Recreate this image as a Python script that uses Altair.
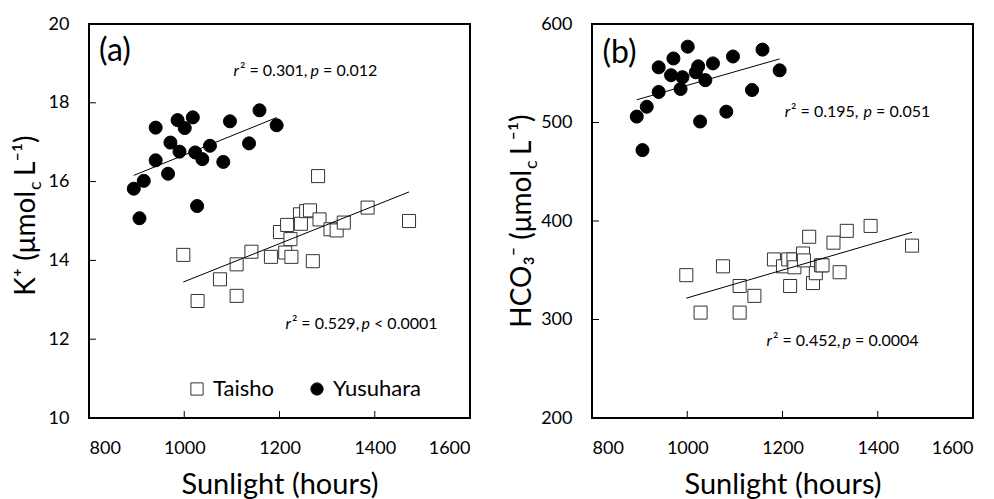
import altair as alt
import pandas as pd

# ---------------- data ----------------
sites = ["Taisho", "Yusuhara"]

yusu_sun = [894, 906, 915, 940, 940, 966, 971, 986, 990, 1001, 1018, 1023, 1027, 1038, 1054, 1082, 1096, 1136, 1158, 1194]
yusu_k = [15.82, 15.07, 16.02, 17.37, 16.54, 16.20, 16.99, 17.56, 16.76, 17.36, 17.63, 16.74, 15.38, 16.57, 16.91, 16.50, 17.53, 16.97, 17.81, 17.43]
yusu_hco3 = [506, 472, 516, 556, 531, 548, 565, 534, 546, 577, 551, 557, 501, 543, 560, 511, 567, 533, 574, 553]

taisho_sun = [998, 1028, 1075, 1110, 1110, 1141, 1182, 1201, 1212, 1216, 1223, 1225, 1243, 1245, 1256, 1264, 1270, 1281, 1284, 1307, 1320, 1335, 1385, 1472]
taisho_k = [14.14, 12.97, 13.52, 13.90, 13.10, 14.22, 14.09, 14.72, 14.20, 14.90, 14.54, 14.09, 15.17, 14.93, 15.25, 15.27, 13.98, 16.14, 15.04, 14.79, 14.76, 14.96, 15.34, 15.00]
taisho_hco3 = [345, 307, 354, 334, 307, 324, 361, 354, 361, 334, 361, 353, 367, 360, 384, 337, 347, 355, 355, 378, 348, 390, 395, 375]

x_domain = [800, 1600]
x_labels = [800, 1000, 1200, 1400, 1600]
x_inner_ticks = [1000, 1200, 1400]

k_domain = [10, 20]
k_labels = [10, 12, 14, 16, 18, 20]
k_inner_ticks = [12, 14, 16, 18]

hco3_domain = [200, 600]
hco3_labels = [200, 300, 400, 500, 600]
hco3_inner_ticks = [300, 400, 500]

# annotations: (r-anchor x, p-anchor x, y, middle text, end text)
ann_k = [(1115, 1283, 18.81, "² = 0.301,", "= 0.012"),
         (1224, 1390, 12.39, "² = 0.529,", "< 0.0001")]
ann_hco3 = [(1216, 1388, 511, "² = 0.195,", "= 0.051"),
            (1178, 1344, 278, "² = 0.452,", "= 0.0004")]

panel_labels = {"a": (821, 19.31, "(a)"), "b": (822, 571, "(b)")}

W, H = 381, 394
FONT = "Lato"


def make_df(t_y, y_y):
    return pd.DataFrame({
        "sun": taisho_sun + yusu_sun,
        "val": t_y + y_y,
        "site": ["Taisho"] * len(taisho_sun) + ["Yusuhara"] * len(yusu_sun),
    })


def panel(df, ydomain, ylabels, yticks, ann, plabel, title_pieces, show_legend):
    xs = alt.Scale(domain=x_domain, nice=False, zero=False)
    ys = alt.Scale(domain=ydomain, nice=False, zero=False)
    xax = alt.Axis(values=x_labels, format="d", ticks=False, domain=False, grid=False,
                   labelPadding=21, labelFontSize=18, labelFont=FONT, labelColor="black",
                   title="Sunlight (hours)", titleFontSize=29, titleFont=FONT,
                   titleFontWeight="normal", titleColor="black", titlePadding=13)
    yax = alt.Axis(values=ylabels, format="d", ticks=False, domain=False, grid=False,
                   labelPadding=20, labelFontSize=18, labelFont=FONT, labelColor="black",
                   title=None)
    X = lambda f: alt.X(f, scale=xs, axis=xax, title="Sunlight (hours)")
    Y = lambda f: alt.Y(f, scale=ys, axis=yax, title=None)

    if show_legend:
        leg = alt.Legend(orient="none", legendX=97, legendY=354, direction="horizontal",
                         title=None, labelFontSize=22, labelFont=FONT, labelColor="black",
                         symbolSize=150, symbolStrokeWidth=1,
                         symbolOpacity=1, labelOffset=5, columnPadding=32, padding=0)
    else:
        leg = None

    base = alt.Chart(df)
    pts = base.mark_point(filled=True, opacity=1, strokeWidth=1, size=170).encode(
        x=X("sun:Q"),
        y=Y("val:Q"),
        fill=alt.Fill("site:N", scale=alt.Scale(domain=sites, range=["white", "black"]), legend=leg),
        stroke=alt.Stroke("site:N", scale=alt.Scale(domain=sites, range=["#333333", "black"]), legend=leg),
        shape=alt.Shape("site:N", scale=alt.Scale(domain=sites, range=["square", "circle"]), legend=leg),
    )
    reg = base.transform_regression("sun", "val", groupby=["site"]).mark_line(
        color="black", strokeWidth=1).encode(
        x=X("sun:Q"),
        y=Y("val:Q"),
        detail="site:N",
    )

    xt = alt.Chart(pd.DataFrame({"sun": x_inner_ticks})).mark_rule(color="black", strokeWidth=1).encode(
        x=X("sun:Q"), y=alt.value(H), y2=alt.value(H - 7))
    yt = alt.Chart(pd.DataFrame({"val": yticks})).mark_rule(color="black", strokeWidth=1).encode(
        y=Y("val:Q"), x=alt.value(0), x2=alt.value(7))

    # annotations (italic r and p)
    it_rows, mid_rows, end_rows = [], [], []
    for rx, px, yy, mid, end in ann:
        it_rows += [{"sun": rx, "val": yy, "t": "r"}, {"sun": px, "val": yy, "t": "p"}]
        mid_rows.append({"sun": rx, "val": yy, "t": mid})
        end_rows.append({"sun": px, "val": yy, "t": end})
    it = alt.Chart(pd.DataFrame(it_rows)).mark_text(
        font=FONT, fontSize=16, fontStyle="italic", align="right", baseline="middle", color="black").encode(
        x=X("sun:Q"), y=Y("val:Q"), text="t:N")
    md = alt.Chart(pd.DataFrame(mid_rows)).mark_text(
        font=FONT, fontSize=16, align="left", baseline="middle", color="black", dx=1).encode(
        x=X("sun:Q"), y=Y("val:Q"), text="t:N")
    ed = alt.Chart(pd.DataFrame(end_rows)).mark_text(
        font=FONT, fontSize=16, align="left", baseline="middle", color="black", dx=4).encode(
        x=X("sun:Q"), y=Y("val:Q"), text="t:N")

    lx, ly, lt = plabel
    pl = alt.Chart(pd.DataFrame({"sun": [lx], "val": [ly], "t": [lt]})).mark_text(
        font=FONT, fontSize=32, align="left", baseline="middle", color="black").encode(
        x=X("sun:Q"), y=Y("val:Q"), text="t:N")

    # rotated y-axis title made of pieces (subscript c)
    p1, p3, xb, ysplit, gap = title_pieces
    tdf = pd.DataFrame({"k": [0]})
    t1 = alt.Chart(tdf).mark_text(font=FONT, fontSize=28, angle=270, align="right",
                                  baseline="alphabetic", color="black", text=p1).encode(
        x=alt.value(xb), y=alt.value(ysplit))
    t2 = alt.Chart(tdf).mark_text(font=FONT, fontSize=18, angle=270, align="left",
                                  baseline="alphabetic", color="black", text="c").encode(
        x=alt.value(xb + 6), y=alt.value(ysplit - 1))
    t3 = alt.Chart(tdf).mark_text(font=FONT, fontSize=28, angle=270, align="left",
                                  baseline="alphabetic", color="black", text=p3).encode(
        x=alt.value(xb), y=alt.value(ysplit - gap))

    return alt.layer(pts, reg, xt, yt, it, md, ed, pl, t1, t2, t3).properties(width=W, height=H)


pa = panel(make_df(taisho_k, yusu_k), k_domain, k_labels, k_inner_ticks, ann_k,
           panel_labels["a"], ("K⁺ (μmol", "L⁻¹)", -54, 167, 15), True)
pb = panel(make_df(taisho_hco3, yusu_hco3), hco3_domain, hco3_labels, hco3_inner_ticks, ann_hco3,
           panel_labels["b"], ("HCO₃⁻ (μmol", "L⁻¹)", -61, 146, 15), False)

chart = alt.hconcat(pa, pb, spacing=37).resolve_scale(
    x="independent", y="independent", fill="independent", shape="independent", stroke="independent"
).properties(
    padding={"left": 4, "top": 6, "right": 5, "bottom": 5}
).configure(font=FONT).configure_view(stroke="black", strokeWidth=2)

chart.save("out.html", embed_options={"renderer": "svg", "actions": False})
